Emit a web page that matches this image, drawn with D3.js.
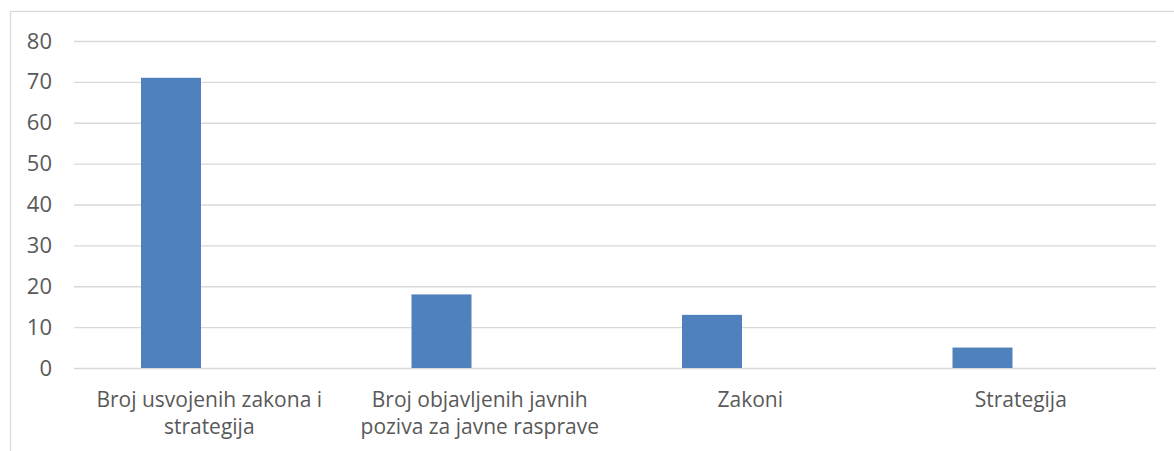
<!DOCTYPE html>
<html>
<head>
<meta charset="utf-8">
<script src="https://cdnjs.cloudflare.com/ajax/libs/d3/7.8.5/d3.min.js"></script>
<style>
  body { margin: 0; background: #fff; }
  .tick text, .cat-label { font-family: "Open Sans", sans-serif; fill: #595959; }
</style>
</head>
<body>
<div id="chart"></div>
<script>
const categories = [
  "Broj usvojenih zakona i strategija",
  "Broj objavljenih javnih poziva za javne rasprave",
  "Zakoni",
  "Strategija"
];
// second series is empty in the source, but it still takes its slot in each cluster
const seriesNames = ["Serija 1", "Serija 2"];
const series1 = [71, 18, 13, 5];
const series2 = [null, null, null, null];
const yTicks = [0, 10, 20, 30, 40, 50, 60, 70, 80];
const labelLines = [
  ["Broj usvojenih zakona i", "strategija"],
  ["Broj objavljenih javnih", "poziva za javne rasprave"],
  ["Zakoni"],
  ["Strategija"]
];

const width = 1174;
const height = 451;
const margin = {top: 41, right: 18, bottom: 83, left: 74};

const svg = d3.select("#chart").append("svg")
    .attr("width", width)
    .attr("height", height);

// chart frame (runs off the right and bottom edges)
svg.append("rect")
    .attr("x", 10.5)
    .attr("y", 11.5)
    .attr("width", width + 20)
    .attr("height", height + 20)
    .attr("fill", "none")
    .attr("stroke", "#d9d9d9")
    .attr("stroke-width", 1.3);

const x0 = d3.scaleBand()
    .domain(categories)
    .range([margin.left, width - margin.right]);

const x1 = d3.scaleBand()
    .domain(seriesNames)
    .range([0, x0.bandwidth()])
    .paddingInner(0.2157)
    .paddingOuter(0.876);

const y = d3.scaleLinear()
    .domain([0, 80])
    .range([height - margin.bottom, margin.top]);

const yaxis = d3.axisLeft(y)
    .tickValues(yTicks)
    .tickSize(-(width - margin.right - margin.left))
    .tickPadding(22);

const gy = svg.append("g")
    .attr("transform", "translate(" + margin.left + ",0)")
    .call(yaxis);
gy.select(".domain").remove();
gy.selectAll(".tick line")
    .attr("stroke", "#d9d9d9")
    .attr("stroke-width", 1.3);
gy.selectAll(".tick text")
    .style("font-size", "22px");

const rows = categories.map(function(c, i) {
    return {cat: c, values: [
        {key: seriesNames[0], value: series1[i]},
        {key: seriesNames[1], value: series2[i]}
    ]};
});

const groups = svg.selectAll(".grp")
    .data(rows)
    .enter()
    .append("g")
    .attr("class", "grp")
    .attr("transform", function(d) { return "translate(" + x0(d.cat) + ",0)"; });

groups.selectAll("rect")
    .data(function(d) { return d.values.filter(function(v) { return v.value != null; }); })
    .enter()
    .append("rect")
    .attr("x", function(d) { return x1(d.key); })
    .attr("width", x1.bandwidth())
    .attr("y", function(d) { return y(d.value); })
    .attr("height", function(d) { return y(0) - y(d.value); })
    .attr("fill", "#4f81bd");

// category labels, wrapped like the original
const labels = svg.selectAll(".cat-label")
    .data(categories)
    .enter()
    .append("text")
    .attr("class", "cat-label")
    .attr("text-anchor", "middle")
    .style("font-size", "21px")
    .attr("x", function(d) { return x0(d) + x0.bandwidth() / 2; })
    .attr("y", y(0) + 39);

labels.selectAll("tspan")
    .data(function(d, i) { return labelLines[i]; })
    .enter()
    .append("tspan")
    .attr("x", function() { return d3.select(this.parentNode).attr("x"); })
    .attr("dy", function(d, i) { return i === 0 ? 0 : 27; })
    .text(function(d) { return d; });
</script>
</body>
</html>
